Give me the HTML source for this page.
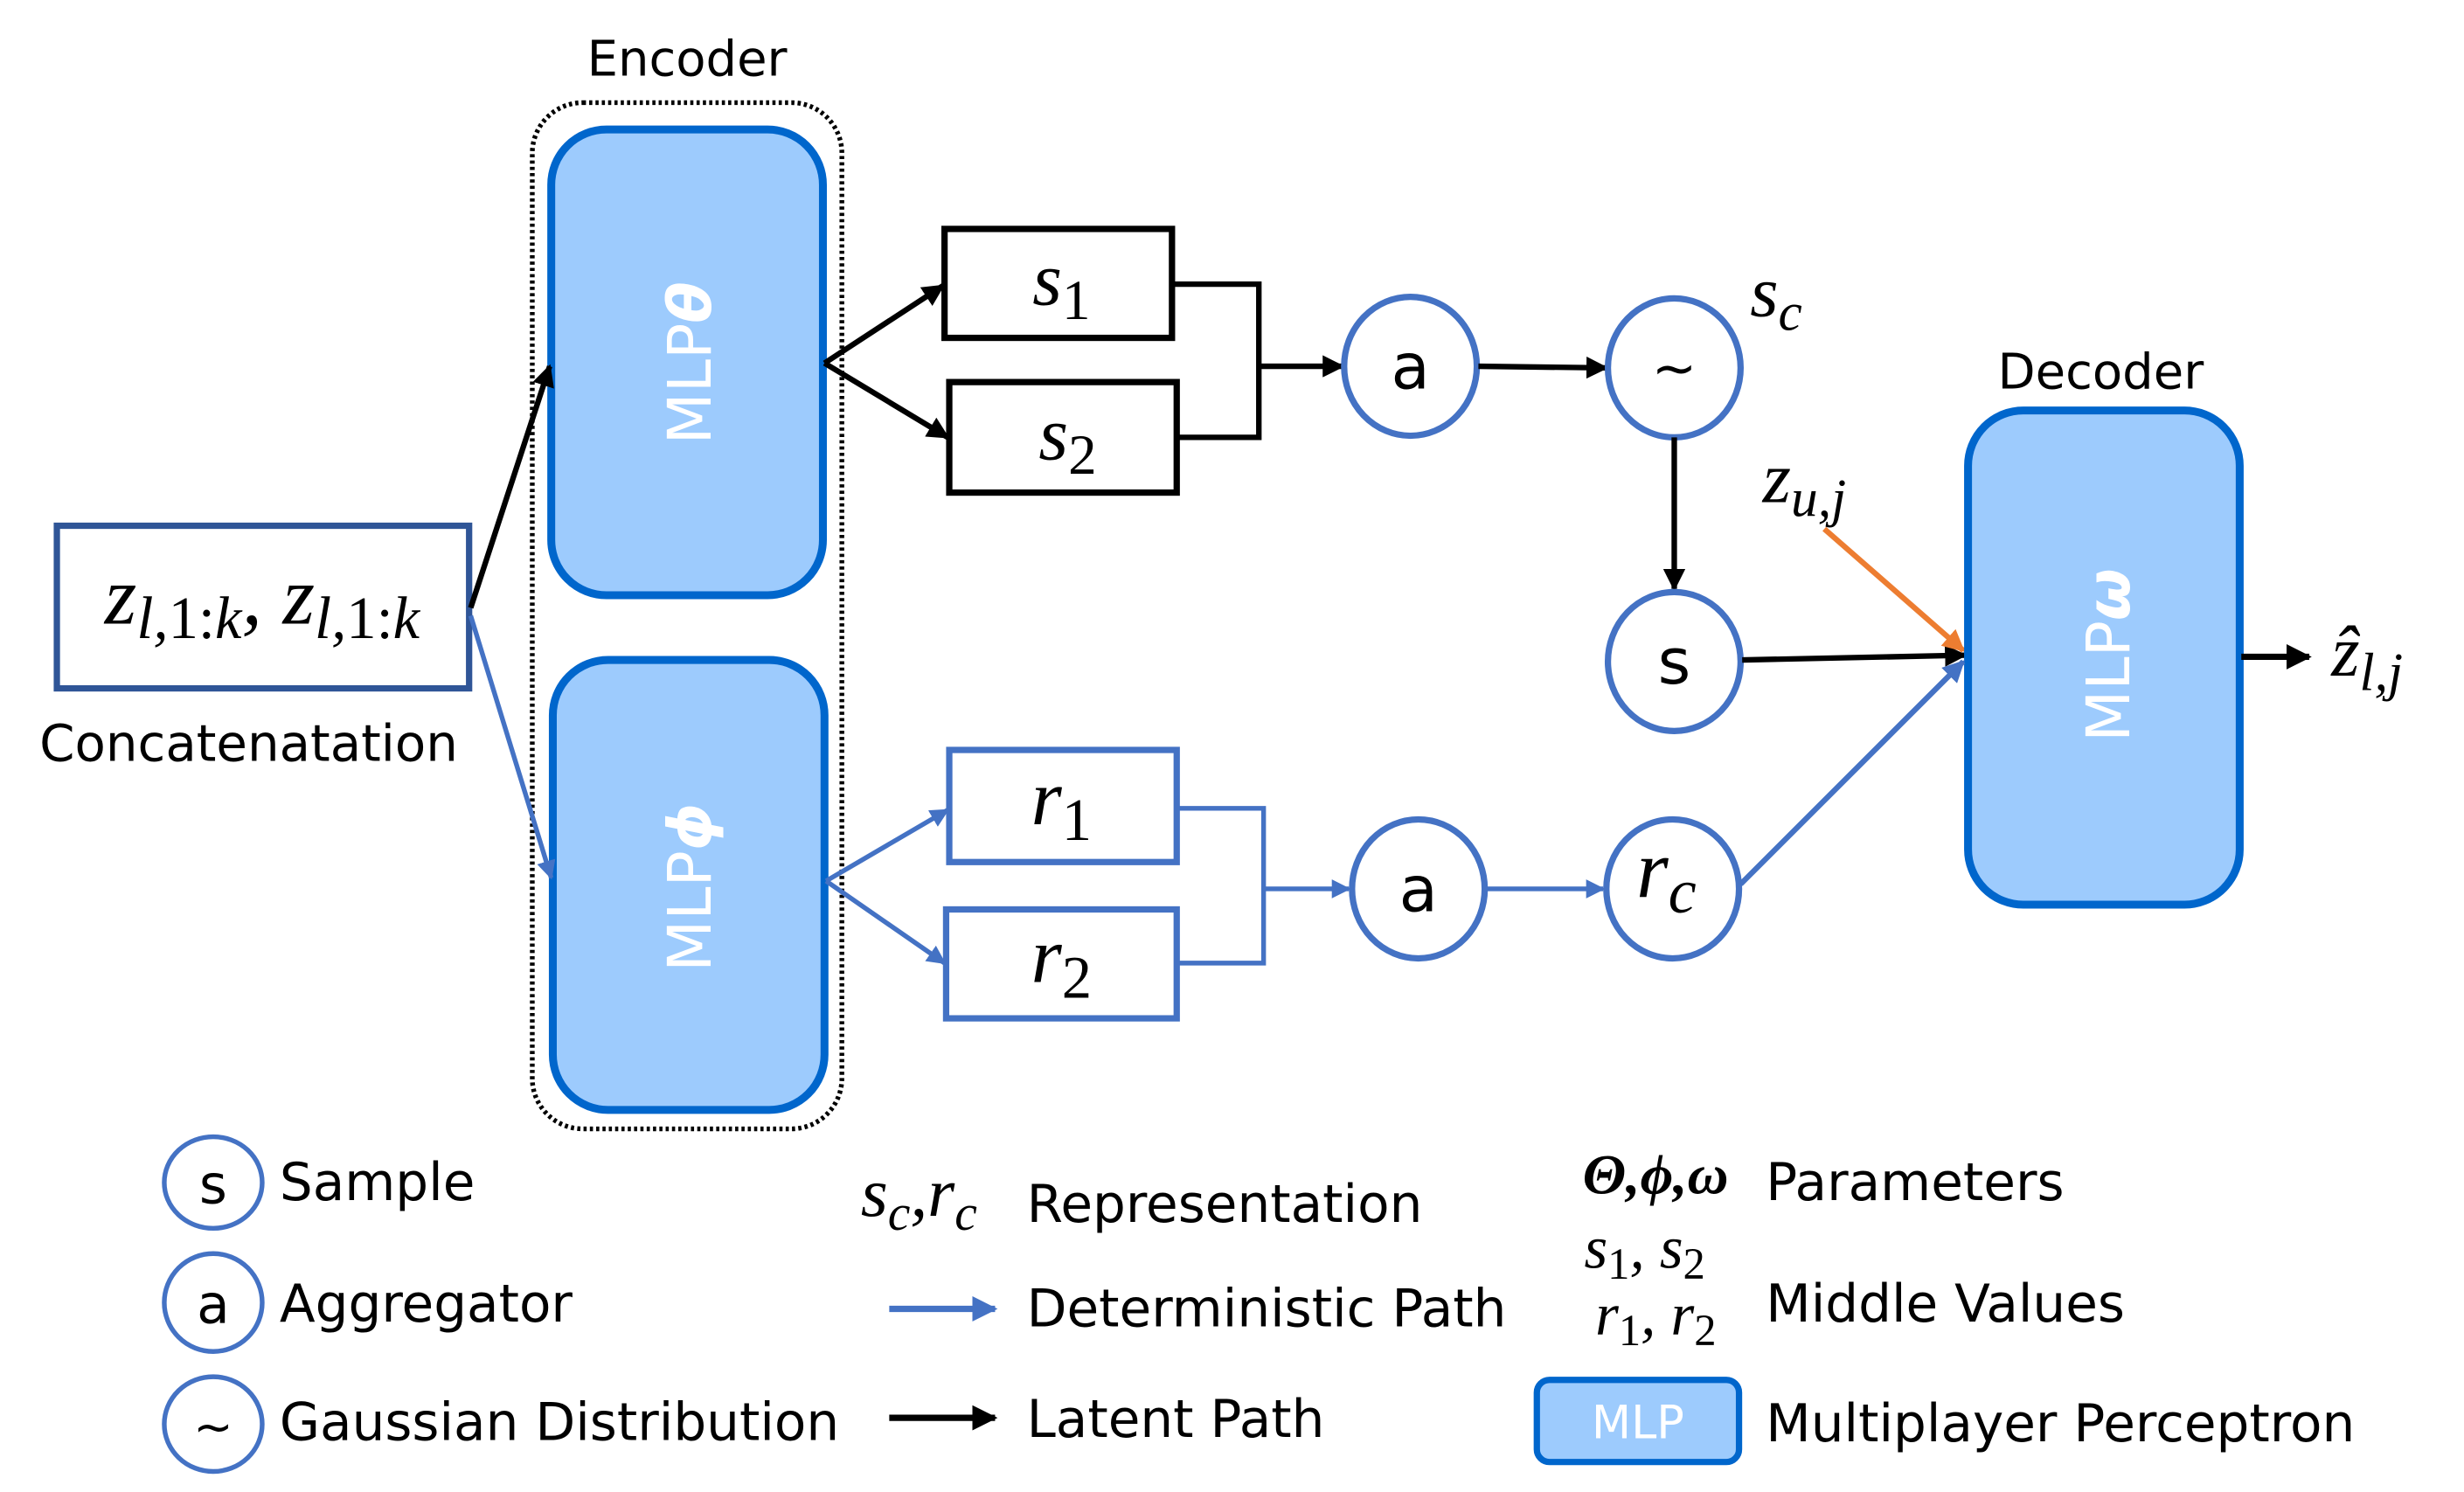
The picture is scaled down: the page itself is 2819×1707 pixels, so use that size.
<!DOCTYPE html>
<html><head><meta charset="utf-8"><style>
html,body{margin:0;padding:0;background:#fff}
svg{display:block}
.t{font-family:"DejaVu Sans","Liberation Sans",sans-serif;fill:#000}
.m{font-family:"Liberation Serif",serif;font-style:italic;fill:#000}
.n{font-style:normal}
.w{font-family:"DejaVu Sans","Liberation Sans",sans-serif;fill:#fff}
</style></head><body>
<svg width="2819" height="1707" viewBox="0 0 1560 945" preserveAspectRatio="none" xmlns="http://www.w3.org/2000/svg">
<defs>
<marker id="ak" viewBox="0 0 10 10" refX="9" refY="5" markerWidth="4" markerHeight="4" orient="auto"><path d="M0,0L10,5L0,10z" fill="#000"/></marker>
<marker id="ab" viewBox="0 0 10 10" refX="9" refY="5" markerWidth="4" markerHeight="4" orient="auto"><path d="M0,0L10,5L0,10z" fill="#4472c4"/></marker>
<marker id="ao" viewBox="0 0 10 10" refX="9" refY="5" markerWidth="4" markerHeight="4" orient="auto"><path d="M0,0L10,5L0,10z" fill="#ed7d31"/></marker>
</defs>
<text class="t" x="435" y="48" font-size="31" text-anchor="middle">Encoder</text>
<rect x="337" y="65" width="196" height="650" rx="32" fill="none" stroke="#000" stroke-width="3" stroke-dasharray="2,2"/>
<rect x="349" y="82" width="172" height="295" rx="35" fill="#9dcbfd" stroke="#0066cc" stroke-width="5"/>
<rect x="350" y="418" width="172" height="285" rx="35" fill="#9dcbfd" stroke="#0066cc" stroke-width="5"/>
<text class="w" font-size="38" text-anchor="middle" transform="translate(450,230) rotate(-90)">MLP<tspan font-weight="bold" font-style="italic">θ</tspan></text>
<text class="w" font-size="38" text-anchor="middle" transform="translate(450,562) rotate(-90)">MLP<tspan font-weight="bold" font-style="italic">ϕ</tspan></text>
<rect x="36" y="333" width="261" height="103" fill="#fff" stroke="#2f5597" stroke-width="4"/>
<text class="m" x="166" y="395" font-size="52" text-anchor="middle">z<tspan font-size="38" dy="9">l,<tspan class="n">1:</tspan>k</tspan><tspan dy="-9">, z</tspan><tspan font-size="38" dy="9">l,<tspan class="n">1:</tspan>k</tspan></text>
<text class="t" x="25" y="482" font-size="32">Concatenatation</text>
<line x1="298" y1="385" x2="348" y2="232" stroke="#000" stroke-width="3.5" marker-end="url(#ak)"/>
<line x1="298" y1="390" x2="349" y2="556" stroke="#4472c4" stroke-width="3" marker-end="url(#ab)"/>
<rect x="598" y="145" width="144" height="69" fill="#fff" stroke="#000" stroke-width="4"/>
<rect x="601" y="242" width="144" height="70" fill="#fff" stroke="#000" stroke-width="4"/>
<text class="m" x="672" y="193" font-size="48" text-anchor="middle">s<tspan class="n" font-size="36" dy="9">1</tspan></text>
<text class="m" x="676" y="291" font-size="48" text-anchor="middle">s<tspan class="n" font-size="36" dy="9">2</tspan></text>
<line x1="522" y1="230" x2="597" y2="181" stroke="#000" stroke-width="3.5" marker-end="url(#ak)"/>
<line x1="522" y1="230" x2="600" y2="277" stroke="#000" stroke-width="3.5" marker-end="url(#ak)"/>
<polyline points="742,180 797,180 797,277 745,277" fill="none" stroke="#000" stroke-width="3.5"/>
<line x1="797" y1="232" x2="850" y2="232" stroke="#000" stroke-width="3.5" marker-end="url(#ak)"/>
<ellipse cx="893" cy="232" rx="42" ry="44" fill="#fff" stroke="#4472c4" stroke-width="4"/>
<text class="t" x="893" y="246" font-size="40" text-anchor="middle">a</text>
<line x1="936" y1="232" x2="1017" y2="233" stroke="#000" stroke-width="3.5" marker-end="url(#ak)"/>
<ellipse cx="1060" cy="233" rx="42" ry="44" fill="#fff" stroke="#4472c4" stroke-width="4"/>
<text class="t" x="1060" y="245" font-size="34" text-anchor="middle">~</text>
<text class="m" x="1108" y="200" font-size="46">s<tspan font-size="34" dy="9">c</tspan></text>
<line x1="1060" y1="277" x2="1060" y2="373" stroke="#000" stroke-width="3.5" marker-end="url(#ak)"/>
<ellipse cx="1060" cy="419" rx="42" ry="44" fill="#fff" stroke="#4472c4" stroke-width="4"/>
<text class="t" x="1060" y="433" font-size="40" text-anchor="middle">s</text>
<line x1="1103" y1="418" x2="1244" y2="415" stroke="#000" stroke-width="3.5" marker-end="url(#ak)"/>
<text class="m" x="1116" y="318" font-size="46">z<tspan font-size="34" dy="9">u,j</tspan></text>
<line x1="1155" y1="335" x2="1243" y2="412" stroke="#ed7d31" stroke-width="3.5" marker-end="url(#ao)"/>
<text class="t" x="1330" y="246" font-size="31" text-anchor="middle">Decoder</text>
<rect x="1246" y="260" width="172" height="313" rx="35" fill="#9dcbfd" stroke="#0066cc" stroke-width="5"/>
<text class="w" font-size="38" text-anchor="middle" transform="translate(1348,415) rotate(-90)">MLP<tspan font-weight="bold" font-style="italic">ω</tspan></text>
<line x1="1419" y1="416" x2="1462" y2="416" stroke="#000" stroke-width="4" marker-end="url(#ak)"/>
<text class="m" x="1476" y="428" font-size="46">ẑ<tspan font-size="34" dy="9">l,j</tspan></text>
<rect x="601" y="475" width="144" height="71" fill="#fff" stroke="#4472c4" stroke-width="4"/>
<rect x="599" y="576" width="146" height="69" fill="#fff" stroke="#4472c4" stroke-width="4"/>
<text class="m" x="672" y="522" font-size="50" text-anchor="middle">r<tspan class="n" font-size="38" dy="10">1</tspan></text>
<text class="m" x="672" y="622" font-size="50" text-anchor="middle">r<tspan class="n" font-size="38" dy="10">2</tspan></text>
<line x1="523" y1="558" x2="600" y2="513" stroke="#4472c4" stroke-width="3" marker-end="url(#ab)"/>
<line x1="523" y1="558" x2="598" y2="610" stroke="#4472c4" stroke-width="3" marker-end="url(#ab)"/>
<polyline points="745,512 800,512 800,610 745,610" fill="none" stroke="#4472c4" stroke-width="3"/>
<line x1="800" y1="563" x2="854" y2="563" stroke="#4472c4" stroke-width="3" marker-end="url(#ab)"/>
<ellipse cx="898" cy="563" rx="42" ry="44" fill="#fff" stroke="#4472c4" stroke-width="4"/>
<text class="t" x="898" y="577" font-size="40" text-anchor="middle">a</text>
<line x1="941" y1="563" x2="1015" y2="563" stroke="#4472c4" stroke-width="3" marker-end="url(#ab)"/>
<ellipse cx="1059" cy="563" rx="42" ry="44" fill="#fff" stroke="#4472c4" stroke-width="4"/>
<text class="m" x="1055" y="568" font-size="52" text-anchor="middle">r<tspan font-size="40" dy="10">c</tspan></text>
<line x1="1102" y1="560" x2="1243" y2="419" stroke="#4472c4" stroke-width="3.5" marker-end="url(#ab)"/>
<!-- legend -->
<ellipse cx="135" cy="749" rx="31" ry="29" fill="#fff" stroke="#4472c4" stroke-width="3"/>
<text class="t" x="135" y="762" font-size="34" text-anchor="middle">s</text>
<text class="t" x="177" y="760" font-size="33">Sample</text>
<ellipse cx="135" cy="825" rx="31" ry="31" fill="#fff" stroke="#4472c4" stroke-width="3"/>
<text class="t" x="135" y="838" font-size="34" text-anchor="middle">a</text>
<text class="t" x="177" y="837" font-size="33">Aggregator</text>
<ellipse cx="135" cy="902" rx="31" ry="30" fill="#fff" stroke="#4472c4" stroke-width="3"/>
<text class="t" x="135" y="914" font-size="30" text-anchor="middle">~</text>
<text class="t" x="177" y="912" font-size="33">Gaussian Distribution</text>
<text class="m" x="545" y="770" font-size="44">s<tspan font-size="32" dy="9">c</tspan><tspan dy="-9">,r</tspan><tspan font-size="32" dy="9">c</tspan></text>
<text class="t" x="650" y="774" font-size="33">Representation</text>
<line x1="563" y1="829" x2="630" y2="829" stroke="#4472c4" stroke-width="4" marker-end="url(#ab)"/>
<text class="t" x="650" y="840" font-size="33">Deterministic Path</text>
<line x1="563" y1="898" x2="630" y2="898" stroke="#000" stroke-width="4" marker-end="url(#ak)"/>
<text class="t" x="650" y="910" font-size="33">Latent Path</text>
<text class="m" x="1002" y="756" font-size="36" font-weight="bold">Θ,ϕ,ω</text>
<text class="t" x="1118" y="760" font-size="33">Parameters</text>
<text class="m" x="1003" y="803" font-size="38">s<tspan class="n" font-size="28" dy="7">1</tspan><tspan dy="-7">, s</tspan><tspan class="n" font-size="28" dy="7">2</tspan></text>
<text class="m" x="1010" y="845" font-size="38">r<tspan class="n" font-size="28" dy="7">1</tspan><tspan dy="-7">, r</tspan><tspan class="n" font-size="28" dy="7">2</tspan></text>
<text class="t" x="1118" y="837" font-size="33">Middle Values</text>
<rect x="973" y="874" width="128" height="52" rx="8" fill="#9dcbfd" stroke="#0066cc" stroke-width="4"/>
<text class="w" x="1037" y="911" font-size="29" text-anchor="middle">MLP</text>
<text class="t" x="1118" y="913" font-size="33">Multiplayer Perceptron</text>
</svg>
</body></html>
